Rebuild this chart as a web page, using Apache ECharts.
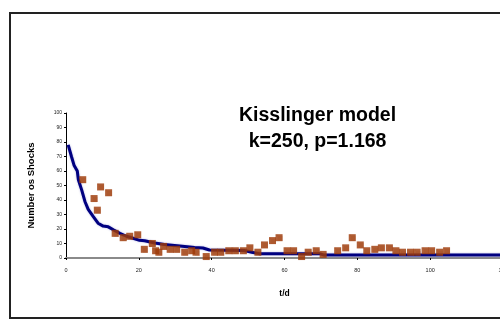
<!DOCTYPE html>
<html>
<head>
<meta charset="utf-8">
<script src="https://cdn.jsdelivr.net/npm/echarts@6/dist/echarts.min.js"></script>
<style>
  html, body { margin: 0; padding: 0; background: #fff; }
  #chart { width: 500px; height: 320px; }
</style>
</head>
<body>
<div id="chart"></div>
<script>
// Observed daily shock counts: day and number of shocks
const obsDays = [4.6, 7.7, 8.6, 9.5, 11.7, 13.5, 15.7, 17.5, 19.7, 21.5, 23.7, 24.6, 25.5, 26.8,
  28.6, 30.4, 32.6, 34.5, 35.7, 38.5, 40.8, 42.5, 44.7, 46.5, 48.7, 50.5, 52.7, 54.5, 56.7,
  58.5, 60.7, 62.5, 64.7, 66.5, 68.7, 70.6, 74.6, 76.8, 78.6, 80.8, 82.6, 84.8, 86.6, 88.8,
  90.6, 92.4, 94.6, 96.4, 98.6, 100.4, 102.6, 104.5];
const obsCounts = [54, 41, 33, 49, 45, 17, 14, 15, 16, 6, 10, 5, 4, 8,
  6, 6, 4, 5, 4, 1, 4, 4, 5, 5, 5, 7, 4, 9, 12,
  14, 5, 5, 1, 4, 5, 2.5, 5, 7, 14, 9, 5, 6, 7, 7,
  5, 4, 4, 4, 5, 5, 4, 5];

// Kisslinger model curve (k=250, p=1.168)
const modelDays = [0.6, 1.5, 2.2, 3.1, 3.4, 4.3, 5.2, 6.1, 7.5, 8.8, 10.2, 11.6, 13, 14.8, 16.6,
  18, 20.2, 21.6, 24.4, 27, 29.8, 32.6, 35.3, 37.6, 39.4, 49, 51, 53, 69.5, 71, 120];
const modelCounts = [78, 70, 64, 60, 54, 47, 39, 33.5, 28.5, 24, 22, 21.5, 19.5, 17, 15,
  14, 12.2, 11.9, 10.3, 9.3, 8.7, 8, 7.3, 6.9, 5.5, 5.2, 4, 3, 3, 2, 2];

const xTicks = { min: 0, max: 120, interval: 20 };
const yTicks = { min: 0, max: 100, interval: 10 };

const chartTitle = 'Kisslinger model\nk=250, p=1.168';
const xName = 't/d';
const yName = 'Number os Shocks';

const zip = (a, b) => a.map((v, i) => [v, b[i]]);

const chart = echarts.init(document.getElementById('chart'), null, { renderer: 'canvas' });
chart.setOption({
  animation: false,
  backgroundColor: '#ffffff',
  textStyle: { fontFamily: 'Liberation Sans, Arial, sans-serif' },
  grid: { left: 66, right: -3, top: 113, bottom: 62, containLabel: false, outerBoundsMode: 'none' },
  graphic: [
    {
      type: 'rect', z: 100, silent: true,
      shape: { x: 10, y: 13, width: 600, height: 305 },
      style: { fill: 'none', stroke: '#222', lineWidth: 2 }
    },
    {
      type: 'text', left: 239, top: 103, z: 100,
      style: {
        text: chartTitle, font: 'bold 19.5px "Liberation Sans", Arial, sans-serif',
        fill: '#000', textAlign: 'center', lineHeight: 26, width: 154
      }
    }
  ],
  xAxis: {
    type: 'value', min: xTicks.min, max: xTicks.max, interval: xTicks.interval,
    name: xName, nameLocation: 'middle', nameGap: 31,
    nameTextStyle: { fontSize: 8.5, fontWeight: 'bold', color: '#000' },
    axisLine: { lineStyle: { color: '#8a8a8a', width: 2 } },
    axisTick: { show: true, length: 2, lineStyle: { color: '#000', width: 1 } },
    axisLabel: { fontSize: 5.5, color: '#222', margin: 9 },
    splitLine: { show: false }
  },
  yAxis: {
    type: 'value', min: yTicks.min, max: yTicks.max, interval: yTicks.interval,
    name: yName, nameLocation: 'middle', nameGap: 30, nameRotate: 90,
    nameTextStyle: { fontSize: 9.5, fontWeight: 'bold', color: '#000' },
    axisLine: { show: true, lineStyle: { color: '#000', width: 1 } },
    axisTick: { show: true, length: 2, lineStyle: { color: '#000', width: 1 } },
    axisLabel: { fontSize: 5, color: '#222', margin: 4 },
    splitLine: { show: false }
  },
  series: [
    {
      type: 'line', data: zip(modelDays, modelCounts), showSymbol: false,
      lineStyle: { color: '#000080', width: 3, shadowColor: 'rgba(120,120,200,0.6)', shadowBlur: 2 },
      z: 2
    },
    {
      type: 'scatter', data: zip(obsDays, obsCounts), symbol: 'rect', symbolSize: 7,
      itemStyle: { color: '#9e3a08', shadowColor: 'rgba(160,80,40,0.3)', shadowBlur: 1 },
      z: 3
    }
  ]
});
</script>
</body>
</html>
